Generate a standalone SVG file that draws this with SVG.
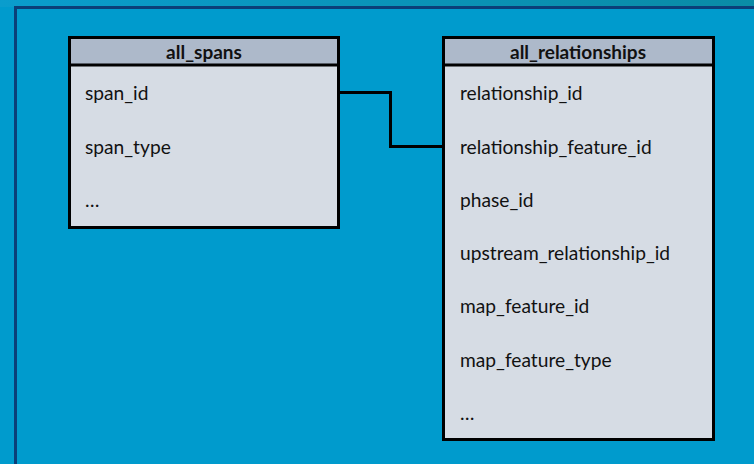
<svg xmlns="http://www.w3.org/2000/svg" width="754" height="464" viewBox="0 0 754 464">
  <defs>
    <linearGradient id="topBand" x1="0" y1="0" x2="1" y2="0">
      <stop offset="0" stop-color="#0A9DCD"/>
      <stop offset="1" stop-color="#0A8CA6"/>
    </linearGradient>
    <style>
      .frame { fill: none; stroke: #0B3F78; stroke-width: 3; }
      .head { fill: #ADB9CA; }
      .body { fill: #D6DCE4; }
      .edge { fill: none; stroke: #000; stroke-width: 3; }
      .title { font-family: Lato, "Open Sans", sans-serif; font-weight: bold; font-size: 19px; fill: #111; text-anchor: middle; }
      .field { font-family: Lato, "Open Sans", sans-serif; font-size: 19.2px; fill: #111; }
      .link { fill: none; stroke: #000; stroke-width: 3; }
    </style>
  </defs>

  <!-- background -->
  <rect x="0" y="0" width="754" height="464" fill="#009BCD"/>
  <rect x="0" y="0" width="754" height="7" fill="url(#topBand)"/>
  <path class="frame" d="M15.5,464 V7.5 H754"/>

  <!-- table: all_spans -->
  <g id="all_spans">
    <rect class="body" x="69.5" y="37.5" width="269" height="190"/>
    <rect class="head" x="69.5" y="37.5" width="269" height="27"/>
    <line class="edge" x1="69.5" y1="65" x2="338.5" y2="65"/>
    <rect class="edge" x="69.5" y="37.5" width="269" height="190"/>
    <text class="title" x="204" y="59">all_spans</text>
    <text class="field" x="85" y="100">span_id</text>
    <text class="field" x="85" y="154">span_type</text>
    <text class="field" x="85" y="207">…</text>
  </g>

  <!-- table: all_relationships -->
  <g id="all_relationships">
    <rect class="body" x="443.5" y="37.5" width="270" height="402"/>
    <rect class="head" x="443.5" y="37.5" width="270" height="27"/>
    <line class="edge" x1="443.5" y1="65" x2="713.5" y2="65"/>
    <rect class="edge" x="443.5" y="37.5" width="270" height="402"/>
    <text class="title" x="578" y="59">all_relationships</text>
    <text class="field" x="460" y="100">relationship_id</text>
    <text class="field" x="460" y="154">relationship_feature_id</text>
    <text class="field" x="460" y="207">phase_id</text>
    <text class="field" x="460" y="260">upstream_relationship_id</text>
    <text class="field" x="460" y="313">map_feature_id</text>
    <text class="field" x="460" y="367">map_feature_type</text>
    <text class="field" x="460" y="420">…</text>
  </g>

  <!-- connectors -->
  <g id="connectors">
    <path class="link" d="M338.5,92.5 H390.5 V146.5 H443.5"/>
  </g>
</svg>
